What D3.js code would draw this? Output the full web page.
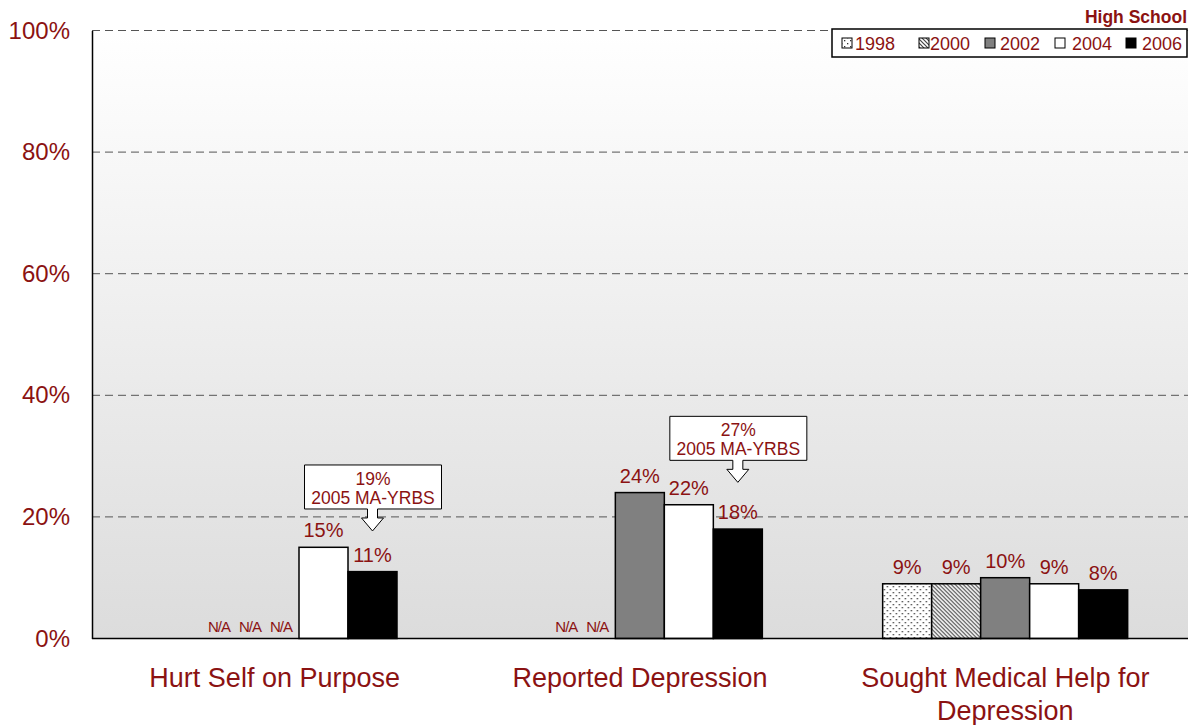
<!DOCTYPE html>
<html>
<head>
<meta charset="utf-8">
<script src="https://cdn.jsdelivr.net/npm/d3@7"></script>
<style>
  body { margin: 0; background: #fff; }
  text { font-family: "Liberation Sans", Arial, sans-serif; }
</style>
</head>
<body>
<script>
// chart data
var categories = ['Hurt Self on Purpose', 'Reported Depression', 'Sought Medical Help for Depression'];
var years = ['1998', '2000', '2002', '2004', '2006'];
// null = N/A
var hurtSelf = [null, null, null, 15, 11];
var depression = [null, null, 24, 22, 18];
var soughtHelp = [9, 9, 10, 9, 8];
var series = [hurtSelf, depression, soughtHelp];
var yTicks = [0, 20, 40, 60, 80, 100];
// MA-YRBS callouts: [category index, year index, value]
var callouts = [[0, 4, 19], [1, 4, 27]];

var width = 1191, height = 725;
var red = '#8b1212';
var plotLeft = 92, plotRight = 1188, plotTop = 30.5, plotBottom = 638.5;

var svg = d3.select('body').append('svg')
  .attr('width', width)
  .attr('height', height);

var defs = svg.append('defs');

// background gradient
var grad = defs.append('linearGradient')
  .attr('id', 'bg').attr('x1', 0).attr('y1', 0).attr('x2', 0).attr('y2', 1);
grad.append('stop').attr('offset', '0%').attr('stop-color', '#ffffff');
grad.append('stop').attr('offset', '100%').attr('stop-color', '#dcdcdc');

// dotted pattern for 1998
var dots = defs.append('pattern')
  .attr('id', 'dots').attr('patternUnits', 'userSpaceOnUse')
  .attr('width', 6).attr('height', 6);
dots.append('rect').attr('width', 6).attr('height', 6).attr('fill', '#fff');
dots.append('rect').attr('x', 1).attr('y', 1).attr('width', 1.3).attr('height', 1.3).attr('fill', '#333');
dots.append('rect').attr('x', 4).attr('y', 4).attr('width', 1.3).attr('height', 1.3).attr('fill', '#333');

// diagonal stripes for 2000
var stripes = defs.append('pattern')
  .attr('id', 'stripes').attr('patternUnits', 'userSpaceOnUse')
  .attr('width', 4).attr('height', 4);
stripes.append('rect').attr('width', 4).attr('height', 4).attr('fill', '#fff');
stripes.append('path').attr('d', 'M-1,-1 L5,5 M-1,3 L1,5 M3,-1 L5,1')
  .attr('stroke', '#444').attr('stroke-width', 1.2);

var fills = ['url(#dots)', 'url(#stripes)', '#808080', '#ffffff', '#000000'];

var x0 = d3.scaleBand().domain(categories).range([plotLeft, plotRight]);
var x1 = d3.scaleBand().domain(years).range([60, 305]);
var y = d3.scaleLinear().domain([0, 100]).range([plotBottom, plotTop]);

// plot background
svg.append('rect')
  .attr('x', plotLeft).attr('y', plotTop)
  .attr('width', plotRight - plotLeft).attr('height', plotBottom - plotTop)
  .attr('fill', 'url(#bg)');

// gridlines
svg.append('g')
  .selectAll('line')
  .data(yTicks.filter(function(d) { return d > 0; }))
  .enter().append('line')
  .attr('x1', plotLeft).attr('x2', plotRight)
  .attr('y1', function(d) { return y(d); })
  .attr('y2', function(d) { return y(d); })
  .attr('stroke', '#555')
  .attr('stroke-dasharray', '8,5');

// y axis
var yAxis = d3.axisLeft(y)
  .tickValues(yTicks)
  .tickSize(0)
  .tickPadding(22)
  .tickFormat(function(d) { return d + '%'; });
var gy = svg.append('g')
  .attr('transform', 'translate(' + plotLeft + ',0)')
  .call(yAxis);
gy.select('.domain').attr('stroke', '#000').attr('stroke-width', 1.5);
gy.selectAll('text')
  .attr('fill', red)
  .style('font-family', '"Liberation Sans", Arial, sans-serif')
  .style('font-size', '24px');

// bars
var groups = svg.append('g').selectAll('g')
  .data(series)
  .enter().append('g')
  .attr('transform', function(d, i) { return 'translate(' + x0(categories[i]) + ',0)'; });

function items(d) {
  var first = d.findIndex(function(v) { return v !== null; });
  return d.map(function(v, j) { return { v: v, j: j, first: first }; });
}

groups.selectAll('rect')
  .data(items)
  .enter().filter(function(d) { return d.v !== null; })
  .append('rect')
  .attr('x', function(d) { return x1(years[d.j]); })
  .attr('y', function(d) { return y(d.v); })
  .attr('width', x1.bandwidth())
  .attr('height', function(d) { return y(0) - y(d.v); })
  .attr('fill', function(d) { return fills[d.j]; })
  .attr('stroke', '#000')
  .attr('stroke-width', 1.5);

// value labels; N/A labels are packed to the left of the first bar
groups.selectAll('text.val')
  .data(items)
  .enter().append('text')
  .attr('class', 'val')
  .attr('x', function(d) {
    if (d.v === null) return x1(years[d.first]) - 18 - (d.first - 1 - d.j) * 31;
    return x1(years[d.j]) + x1.bandwidth() / 2;
  })
  .attr('y', function(d) { return d.v === null ? plotBottom - 7 : y(d.v) - 10; })
  .attr('text-anchor', 'middle')
  .attr('fill', red)
  .style('font-size', function(d) { return d.v === null ? '15px' : '20px'; })
  .style('letter-spacing', function(d) { return d.v === null ? '-1px' : '0'; })
  .text(function(d) { return d.v === null ? 'N/A' : d.v + '%'; });

// x axis line
svg.append('line')
  .attr('x1', plotLeft).attr('x2', plotRight)
  .attr('y1', plotBottom).attr('y2', plotBottom)
  .attr('stroke', '#000').attr('stroke-width', 1.5);

// category labels
var catLines = [['Hurt Self on Purpose'], ['Reported Depression'], ['Sought Medical Help for', 'Depression']];
svg.append('g').selectAll('text')
  .data(categories)
  .enter().append('text')
  .attr('x', function(d) { return x0(d) + x0.bandwidth() / 2; })
  .attr('y', 687)
  .attr('text-anchor', 'middle')
  .attr('fill', red)
  .style('font-size', '27px')
  .each(function(d, i) {
    var t = d3.select(this);
    catLines[i].forEach(function(line, k) {
      t.append('tspan')
        .attr('x', x0(d) + x0.bandwidth() / 2)
        .attr('dy', k === 0 ? 0 : 33)
        .text(line);
    });
  });

// callouts
callouts.forEach(function(c) {
  var cx = x0(categories[c[0]]) + x1(years[c[1]]) + x1.bandwidth() / 2;
  var tipY = y(c[2]) + 8;
  var bw = 137, bh = 44;
  var bx = cx - 68, by = tipY - 66;
  var g = svg.append('g');
  g.append('path')
    .attr('d', 'M' + bx + ',' + by + 'h' + bw + 'v' + bh +
      'H' + (cx + 5) + 'v9h6L' + cx + ',' + tipY + 'L' + (cx - 11) + ',' + (by + bh + 9) +
      'h6v-9H' + bx + 'Z')
    .attr('fill', '#fff').attr('stroke', '#000').attr('stroke-width', 1);
  g.append('text')
    .attr('x', bx + bw / 2).attr('y', by + 20)
    .attr('text-anchor', 'middle').attr('fill', red)
    .style('font-size', '17.5px')
    .text(c[2] + '%');
  g.append('text')
    .attr('x', bx + bw / 2).attr('y', by + 39)
    .attr('text-anchor', 'middle').attr('fill', red)
    .style('font-size', '17.5px')
    .text('2005 MA-YRBS');
});

// legend
svg.append('text')
  .attr('x', 1187).attr('y', 23)
  .attr('text-anchor', 'end')
  .attr('fill', red)
  .style('font-size', '17.5px')
  .style('font-weight', 'bold')
  .text('High School');

var legend = svg.append('g');
legend.append('rect')
  .attr('x', 832).attr('y', 29)
  .attr('width', 355).attr('height', 28)
  .attr('fill', '#fff').attr('stroke', '#000').attr('stroke-width', 1.5);

var swatchX = [842, 919, 985, 1055, 1126];
var labelX = [855, 930, 1000, 1072, 1142];
var item = legend.selectAll('g.item')
  .data(years)
  .enter().append('g')
  .attr('class', 'item');
item.append('rect')
  .attr('x', function(d, i) { return swatchX[i]; }).attr('y', 38)
  .attr('width', 10).attr('height', 10)
  .attr('fill', function(d, i) { return fills[i]; })
  .attr('stroke', '#000').attr('stroke-width', 1);
item.append('text')
  .attr('x', function(d, i) { return labelX[i]; }).attr('y', 50)
  .attr('fill', red)
  .style('font-size', '18px')
  .text(function(d) { return d; });
</script>
</body>
</html>
